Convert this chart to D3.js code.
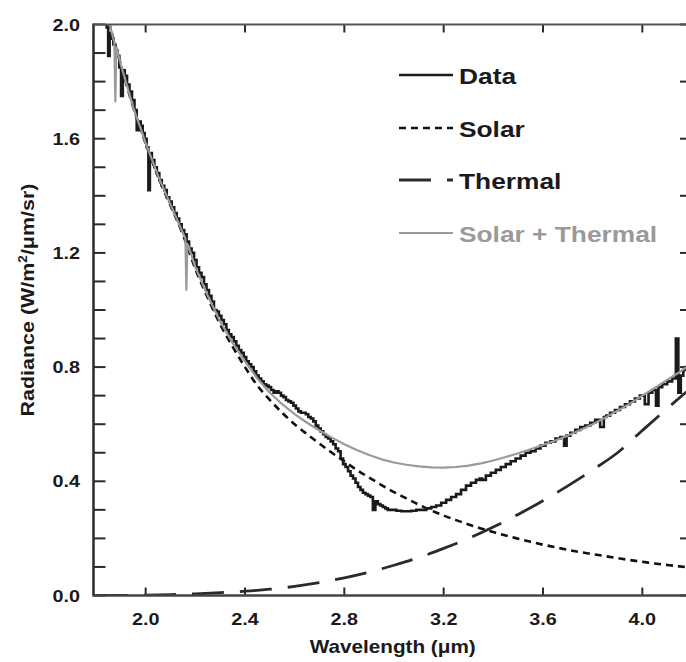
<!DOCTYPE html>
<html>
<head>
<meta charset="utf-8">
<script src="https://cdn.jsdelivr.net/npm/d3@7"></script>
<style>
  html, body { margin: 0; padding: 0; background: #fff; }
  svg { display: block; font-family: "Liberation Sans", Arial, Helvetica, sans-serif; font-weight: bold; }
</style>
</head>
<body>
<div id="chart"></div>
<script>
// ---------- data ----------
const xTicks = [2.0, 2.4, 2.8, 3.2, 3.6, 4.0];
const xTickLabels = ["2.0", "2.4", "2.8", "3.2", "3.6", "4.0"];
const yTicks = [0.0, 0.4, 0.8, 1.2, 1.6, 2.0];
const yTickLabels = ["0.0", "0.4", "0.8", "1.2", "1.6", "2.0"];
const legendLabels = ["Data", "Solar", "Thermal", "Solar + Thermal"];

// measured spectrum (black)
const dataWl = [1.840,1.846,1.852,1.858,1.866,1.874,1.882,1.890,1.898,1.904,1.912,1.920,1.930,1.940,1.950,1.960,1.968,1.976,1.984,1.992,
  2.000,2.008,2.014,2.020,2.030,2.040,2.050,2.060,2.070,2.080,2.090,2.100,2.110,2.120,2.130,2.140,2.150,2.160,2.170,2.180,2.190,
  2.200,2.210,2.220,2.230,2.240,2.250,2.260,2.270,2.280,2.290,2.300,2.310,2.320,2.330,2.340,2.350,2.360,2.370,2.380,2.390,
  2.400,2.410,2.420,2.430,2.440,2.450,2.460,2.470,2.480,2.490,2.500,2.510,2.520,2.530,2.540,2.550,2.560,2.570,2.580,2.590,
  2.600,2.610,2.620,2.630,2.640,2.650,2.660,2.670,2.680,2.690,2.700,2.710,2.720,2.730,2.740,2.750,2.760,2.770,2.780,2.790,
  2.800,2.810,2.820,2.830,2.840,2.850,2.860,2.870,2.880,2.890,2.900,2.910,2.920,2.930,2.940,2.950,2.960,2.970,2.980,
  3.000,3.020,3.040,3.060,3.080,3.100,3.120,3.140,3.160,3.180,3.200,3.220,3.240,3.260,3.280,3.300,3.320,3.340,3.350,3.360,3.380,
  3.400,3.420,3.440,3.460,3.480,3.500,3.520,3.540,3.560,3.580,3.600,3.620,3.640,3.660,3.680,3.690,3.700,3.720,3.740,3.760,3.780,
  3.800,3.820,3.840,3.850,3.860,3.880,3.900,3.920,3.940,3.960,3.980,4.000,4.020,4.030,4.050,4.060,4.070,4.090,4.110,4.130,4.140,
  4.150,4.160,4.170,4.180,4.200];
const dataRad = [2.06,1.99,1.89,1.97,1.95,1.93,1.91,1.89,1.85,1.75,1.84,1.82,1.79,1.765,1.735,1.70,1.63,1.66,1.645,1.62,
  1.60,1.57,1.42,1.55,1.525,1.50,1.48,1.455,1.435,1.42,1.395,1.38,1.36,1.34,1.32,1.30,1.28,1.265,1.24,1.215,1.20,
  1.175,1.15,1.13,1.115,1.09,1.07,1.05,1.03,1.00,0.995,0.98,0.965,0.95,0.93,0.915,0.905,0.89,0.875,0.86,0.85,
  0.835,0.82,0.81,0.80,0.785,0.77,0.76,0.75,0.74,0.735,0.73,0.72,0.71,0.715,0.71,0.70,0.695,0.685,0.68,0.675,
  0.665,0.655,0.645,0.64,0.64,0.635,0.625,0.62,0.61,0.595,0.585,0.575,0.565,0.555,0.55,0.54,0.53,0.515,0.505,0.48,
  0.46,0.45,0.435,0.42,0.41,0.395,0.38,0.37,0.36,0.355,0.35,0.345,0.30,0.33,0.32,0.315,0.31,0.305,0.30,
  0.30,0.297,0.295,0.295,0.297,0.30,0.30,0.305,0.31,0.315,0.325,0.335,0.345,0.355,0.37,0.385,0.395,0.405,0.41,0.405,0.42,
  0.43,0.44,0.45,0.46,0.47,0.48,0.49,0.50,0.505,0.515,0.525,0.535,0.54,0.55,0.555,0.525,0.56,0.57,0.58,0.59,0.595,
  0.605,0.615,0.59,0.625,0.63,0.64,0.65,0.66,0.67,0.68,0.69,0.70,0.67,0.71,0.72,0.665,0.73,0.74,0.75,0.76,0.90,
  0.71,0.77,0.79,0.80,0.81];

// solar model (short dash)
const solarWl = [1.84,1.87,1.90,1.95,2.00,2.05,2.10,2.15,2.20,2.25,2.30,2.35,2.40,2.45,2.50,2.55,2.60,2.65,2.70,2.75,
  2.80,2.85,2.90,2.95,3.00,3.05,3.10,3.15,3.20,3.25,3.30,3.35,3.40,3.45,3.50,3.55,3.60,3.65,3.70,3.75,
  3.80,3.85,3.90,3.95,4.00,4.05,4.10,4.15,4.20];
const solarRad = [2.05,1.95,1.86,1.71,1.583,1.467,1.366,1.265,1.144,1.043,0.95,0.872,0.80,0.735,0.685,0.64,0.60,0.565,0.532,0.50,
  0.47,0.44,0.413,0.387,0.362,0.34,0.318,0.298,0.28,0.264,0.249,0.235,0.222,0.21,0.199,0.188,0.178,0.169,0.16,0.152,
  0.145,0.138,0.131,0.124,0.118,0.112,0.107,0.102,0.097];

// thermal model (long dash)
const thermalWl = [1.8,1.9,2.0,2.1,2.2,2.3,2.4,2.5,2.6,2.7,2.8,2.9,3.0,3.1,3.2,3.3,3.4,3.5,3.6,3.7,3.8,3.9,4.0,4.1,4.2];
const thermalRad = [0,0,0.001,0.003,0.006,0.01,0.015,0.022,0.032,0.045,0.062,0.082,0.106,0.133,0.165,0.2,0.24,0.284,0.332,0.384,0.44,0.5,0.578,0.655,0.73];

// solar + thermal (grey)
const sumWl = [1.84,1.87,1.874,1.878,1.882,1.90,1.95,2.00,2.05,2.10,2.15,2.16,2.164,2.168,2.172,2.20,2.25,2.30,2.35,2.40,2.45,2.50,2.55,2.60,2.65,2.70,2.75,
  2.80,2.85,2.90,2.95,3.00,3.05,3.10,3.15,3.20,3.25,3.30,3.35,3.40,3.45,3.50,3.55,3.60,3.65,3.70,3.75,
  3.80,3.85,3.90,3.95,4.00,4.05,4.10,4.15,4.20];
const sumRad = [2.05,1.95,1.94,1.73,1.92,1.86,1.71,1.585,1.47,1.37,1.27,1.25,1.07,1.23,1.225,1.15,1.05,0.96,0.885,0.82,0.76,0.71,0.67,0.635,0.605,0.578,0.553,
  0.53,0.51,0.492,0.477,0.466,0.458,0.452,0.449,0.448,0.45,0.455,0.463,0.473,0.485,0.498,0.512,0.527,0.543,0.56,0.58,
  0.60,0.623,0.647,0.672,0.70,0.727,0.755,0.783,0.812];

// ---------- layout ----------
const W = 686, H = 662;
const pL = 93.5, pR = 692, pT = 24.5, pB = 595.5;

const svg = d3.select("#chart").append("svg").attr("width", W).attr("height", H);

const x = d3.scaleLinear().domain([1.79, 4.2]).range([pL, pR]);
const y = d3.scaleLinear().domain([0, 2]).range([pB, pT]);

svg.append("defs").append("clipPath").attr("id", "plot")
  .append("rect").attr("x", pL).attr("y", pT).attr("width", pR - pL).attr("height", pB - pT);

const axisColor = "#2a2a2a";
const textColor = "#1a1a1a";

// ticks (inward)
const yMinor = d3.range(0, 2.0001, 0.1);
svg.append("g").selectAll("line").data(yMinor).join("line")
  .attr("x1", pL).attr("x2", pL + 12)
  .attr("y1", d => y(d)).attr("y2", d => y(d))
  .attr("stroke", axisColor).attr("stroke-width", 2);
const yRight = d3.range(0, 2.0001, 0.2);
svg.append("g").selectAll("line").data(yRight).join("line")
  .attr("x1", pR - 12).attr("x2", pR)
  .attr("y1", d => y(d)).attr("y2", d => y(d))
  .attr("stroke", axisColor).attr("stroke-width", 2);
svg.append("g").selectAll("line").data(xTicks).join("line")
  .attr("x1", d => x(d)).attr("x2", d => x(d))
  .attr("y1", pB).attr("y2", pB - 8)
  .attr("stroke", axisColor).attr("stroke-width", 2);
svg.append("g").selectAll("line").data(xTicks).join("line")
  .attr("x1", d => x(d)).attr("x2", d => x(d))
  .attr("y1", pT).attr("y2", pT + 8)
  .attr("stroke", axisColor).attr("stroke-width", 2);

// tick labels
svg.append("g").selectAll("text").data(yTicks).join("text")
  .attr("transform", d => `translate(80,${y(d) + 6}) scale(1.2,1)`)
  .attr("text-anchor", "end")
  .attr("font-size", 16.5).attr("fill", textColor)
  .text((d, i) => yTickLabels[i]);
svg.append("g").selectAll("text").data(xTicks).join("text")
  .attr("transform", d => `translate(${x(d)},625) scale(1.2,1)`)
  .attr("text-anchor", "middle")
  .attr("font-size", 16.5).attr("fill", textColor)
  .text((d, i) => xTickLabels[i]);

// axis titles
svg.append("text")
  .attr("transform", `translate(${(pL + pR) / 2},653) scale(1.15,1)`)
  .attr("text-anchor", "middle").attr("font-size", 18).attr("fill", textColor)
  .text("Wavelength (\u03bcm)");
const yl = svg.append("text")
  .attr("transform", "translate(34,300) rotate(-90) scale(1.13,1)")
  .attr("text-anchor", "middle").attr("font-size", 19).attr("fill", textColor);
yl.append("tspan").text("Radiance (W/m");
yl.append("tspan").attr("font-size", 12).attr("dy", -7).text("2");
yl.append("tspan").attr("dy", 7).text("/\u03bcm/sr)");

// ---------- curves ----------
const g = svg.append("g").attr("clip-path", "url(#plot)");
const lineLin = d3.line().x(d => x(d[0])).y(d => y(d[1]));
const lineSmooth = d3.line().x(d => x(d[0])).y(d => y(d[1])).curve(d3.curveMonotoneX);
const lineStep = d3.line().x(d => x(d[0])).y(d => y(d[1])).curve(d3.curveStep);

const thermal = thermalWl.map((w, i) => [w, thermalRad[i]]);
const solar = solarWl.map((w, i) => [w, solarRad[i]]);
const sum = sumWl.map((w, i) => [w, sumRad[i]]);
const data = dataWl.map((w, i) => [w, dataRad[i]]);

const styles = [
  { stroke: "#1a1a1a", width: 2.6, dash: null },     // Data
  { stroke: "#111111", width: 2.6, dash: "7,5" },    // Solar
  { stroke: "#2a2a2a", width: 2.8, dash: "32,16" },  // Thermal
  { stroke: "#9a9a9a", width: 2.2, dash: null }      // Solar + Thermal
];

g.append("path").attr("d", lineSmooth(thermal)).attr("fill", "none")
  .attr("stroke", styles[2].stroke).attr("stroke-width", styles[2].width).attr("stroke-dasharray", styles[2].dash);
g.append("path").attr("d", lineSmooth(solar)).attr("fill", "none")
  .attr("stroke", styles[1].stroke).attr("stroke-width", styles[1].width).attr("stroke-dasharray", styles[1].dash);
g.append("path").attr("d", lineStep(data)).attr("fill", "none")
  .attr("stroke", styles[0].stroke).attr("stroke-width", styles[0].width).attr("stroke-linejoin", "miter");
g.append("path").attr("d", lineLin(sum)).attr("fill", "none")
  .attr("stroke", styles[3].stroke).attr("stroke-width", styles[3].width).attr("stroke-linejoin", "round");

// frame
svg.append("line").attr("x1", pL).attr("x2", pL).attr("y1", pT - 1).attr("y2", pB + 1)
  .attr("stroke", axisColor).attr("stroke-width", 2.5);
svg.append("line").attr("x1", pL).attr("x2", pR).attr("y1", pB).attr("y2", pB)
  .attr("stroke", "#444").attr("stroke-width", 2.5);
svg.append("line").attr("x1", pL).attr("x2", pR).attr("y1", pT).attr("y2", pT)
  .attr("stroke", "#555").attr("stroke-width", 2.2);
svg.append("line").attr("x1", pR).attr("x2", pR).attr("y1", pT).attr("y2", pB)
  .attr("stroke", axisColor).attr("stroke-width", 2.5);

// ---------- legend ----------
const legRowsY = [75, 128, 180, 233];
const leg = svg.append("g");
legendLabels.forEach((lab, i) => {
  const st = styles[i];
  leg.append("line").attr("x1", 399).attr("x2", 453).attr("y1", legRowsY[i]).attr("y2", legRowsY[i])
    .attr("stroke", st.stroke).attr("stroke-width", st.width)
    .attr("stroke-dasharray", st.dash);
  leg.append("text")
    .attr("transform", `translate(459,${legRowsY[i] + 8.5}) scale(1.17,1)`)
    .attr("font-size", 22.5)
    .attr("fill", i === 3 ? "#9a9a9a" : textColor)
    .text(lab);
});
</script>
</body>
</html>
